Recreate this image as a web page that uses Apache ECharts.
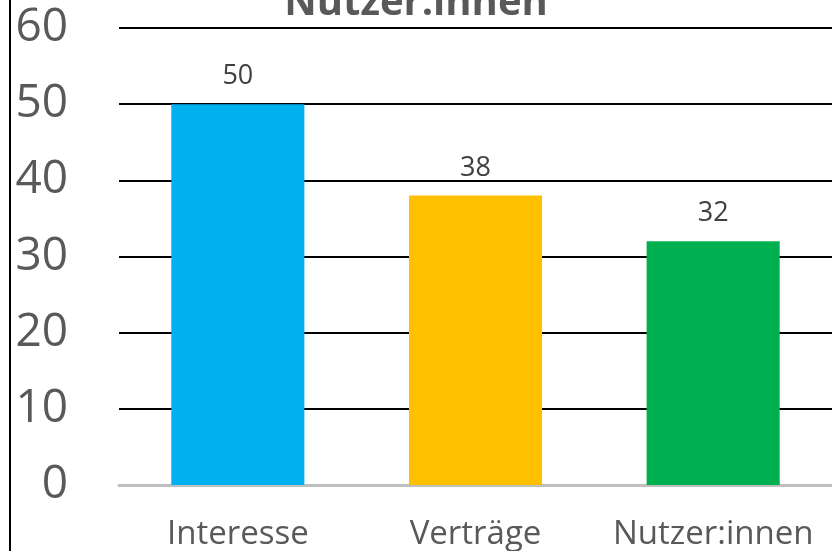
<!DOCTYPE html>
<html>
<head>
<meta charset="utf-8">
<script src="https://cdn.jsdelivr.net/npm/echarts@6/dist/echarts.min.js"></script>
<style>
  html, body { margin: 0; padding: 0; background: #fff; }
  #main { width: 832px; height: 551px; }
</style>
</head>
<body>
<div id="main"></div>
<script>
var categories = ['Interesse', 'Verträge', 'Nutzer:innen'];
var values = [50, 38, 32];
var barColors = ['#00B0F0', '#FFC000', '#00B050'];

var myChart = echarts.init(document.getElementById('main'));
// Balkendiagramm
myChart.setOption({
  animation: false,
  title: {
    text: 'Nutzer:innen',
    left: 'center',
    top: -21,
    textStyle: { fontFamily: 'Open Sans', fontSize: 40, fontWeight: 'bold', color: '#595959' }
  },
  graphic: [{
    type: 'line',
    shape: { x1: 10, y1: 0, x2: 10, y2: 551 },
    style: { stroke: '#000', lineWidth: 2 }
  }],
  grid: { left: 119, right: -3, top: 28, bottom: 66 },
  xAxis: {
    type: 'category',
    data: categories,
    axisLine: { lineStyle: { color: '#BFBFBF', width: 3 } },
    axisTick: { show: false },
    axisLabel: { interval: 0, hideOverlap: false, fontFamily: 'Open Sans', fontSize: 33, color: '#595959', margin: 33 }
  },
  yAxis: {
    type: 'value',
    min: 0,
    max: 60,
    interval: 10,
    axisLine: { show: false },
    axisTick: { show: false },
    splitLine: { lineStyle: { color: '#000', width: 2 } },
    axisLabel: { fontFamily: 'Open Sans', fontSize: 46, color: '#595959', margin: 51 }
  },
  series: [{
    type: 'bar',
    barWidth: '56%',
    data: values.map(function (v, i) {
      return { value: v, itemStyle: { color: barColors[i] } };
    }),
    label: {
      show: true,
      position: 'top',
      distance: 14,
      fontFamily: 'Open Sans',
      fontSize: 27,
      color: '#404040'
    }
  }]
});
</script>
</body>
</html>
